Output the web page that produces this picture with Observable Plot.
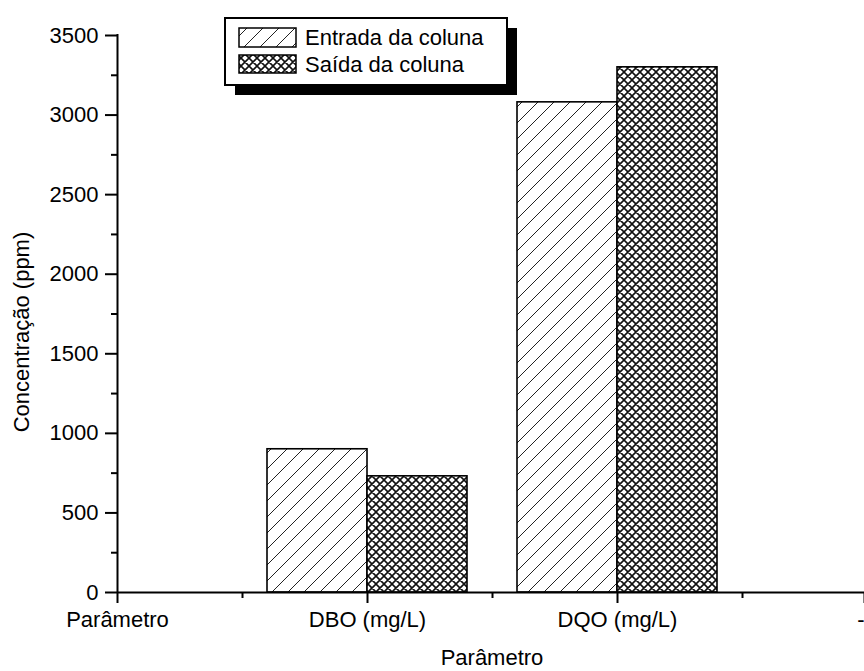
<!DOCTYPE html>
<html><head><meta charset="utf-8">
<script src="https://cdn.jsdelivr.net/npm/d3@7"></script>
<script src="https://cdn.jsdelivr.net/npm/@observablehq/plot@0.6"></script>
<style>
body{margin:0;background:#fff}
#chart{position:relative;width:864px;height:671px;overflow:hidden}
</style>
</head><body><div id="chart"></div>
<script>
// ---- data ----
const categories = ["DBO (mg/L)", "DQO (mg/L)"];
const categoryPositions = [1, 2];
const seriesNames = ["Entrada da coluna", "Saída da coluna"];
const entrada = [900, 3080];
const saida = [730, 3300];
const xMajorTicks = [0, 1, 2];
const xTickLabels = ["Parâmetro", "DBO (mg/L)", "DQO (mg/L)"];
const xEdgeTick = [3];
const xEdgeLabel = "-";
const xMinorTicks = [0.5, 1.5, 2.5];
const yMajorTicks = [0, 500, 1000, 1500, 2000, 2500, 3000, 3500];
const yMinorTicks = [250, 750, 1250, 1750, 2250, 2750, 3250];
const xTitle = "Parâmetro";
const yTitle = "Concentração (ppm)";

const rowsEntrada = categories.map((c, i) => ({cat: c, pos: categoryPositions[i], value: entrada[i]}));
const rowsSaida = categories.map((c, i) => ({cat: c, pos: categoryPositions[i], value: saida[i]}));

const BAR = 0.4;
const FONT = "'Liberation Sans', Arial, Helvetica, sans-serif";
const FS = 22;

const plot = Plot.plot({
  width: 864,
  height: 671,
  marginLeft: 117,
  marginRight: 0,
  marginTop: 35,
  marginBottom: 79,
  style: {fontFamily: FONT, fontSize: FS + "px", color: "black", background: "white", overflow: "visible"},
  x: {domain: [0, 3], range: [117, 867]},
  y: {domain: [0, 3500], range: [592, 35]},
  marks: [
    Plot.rectY(rowsEntrada, {x1: d => d.pos - BAR, x2: d => d.pos, y1: 0, y2: "value",
      fill: "url(#hatchE)", stroke: "black", strokeWidth: 1.6}),
    Plot.rectY(rowsSaida, {x1: d => d.pos, x2: d => d.pos + BAR, y1: 0, y2: "value",
      fill: "url(#hatchS)", stroke: "black", strokeWidth: 1.6}),
    Plot.axisY(yMajorTicks, {tickSize: 12, tickPadding: 7, strokeWidth: 2, label: null, fontSize: FS, tickFormat: d => String(d)}),
    Plot.axisY(yMinorTicks, {tickSize: 6, strokeWidth: 2, text: null, label: null}),
    Plot.axisX(xMajorTicks, {tickSize: 11, tickPadding: 8, strokeWidth: 2, label: null, fontSize: FS,
      tickFormat: d => xTickLabels[xMajorTicks.indexOf(d)]}),
    Plot.axisX(xEdgeTick, {tickSize: 11, tickPadding: 8, strokeWidth: 2, label: null, fontSize: FS,
      textAnchor: "end", dx: -3, tickFormat: () => xEdgeLabel}),
    Plot.axisX(xMinorTicks, {tickSize: 6, strokeWidth: 2, text: null, label: null}),
    Plot.ruleY([0], {strokeWidth: 2}),
    Plot.ruleX([0], {y1: 0, y2: 3500, strokeWidth: 2, strokeLinecap: "square"})
  ]
});

document.getElementById("chart").appendChild(plot);
const svg = d3.select(plot);

// patterns
const defs = svg.insert("defs", ":first-child");
const pE = defs.append("pattern").attr("id", "hatchE").attr("patternUnits", "userSpaceOnUse")
  .attr("width", 16).attr("height", 16);
pE.append("rect").attr("width", 16).attr("height", 16).attr("fill", "white");
pE.append("path").attr("d", "M-4,4 L4,-4 M0,16 L16,0 M12,20 L20,12")
  .attr("stroke", "#222").attr("stroke-width", 1).attr("fill", "none");
const pS = defs.append("pattern").attr("id", "hatchS").attr("patternUnits", "userSpaceOnUse")
  .attr("width", 8).attr("height", 8);
pS.append("rect").attr("width", 8).attr("height", 8).attr("fill", "white");
pS.append("path").attr("d", "M-2,2 L2,-2 M0,8 L8,0 M6,10 L10,6 M-2,6 L2,10 M0,0 L8,8 M6,-2 L10,2")
  .attr("stroke", "#111").attr("stroke-width", 1.6).attr("fill", "none");

// axis titles
svg.append("text").attr("x", 492).attr("y", 665).attr("text-anchor", "middle")
  .attr("font-family", FONT).attr("font-size", FS).attr("fill", "black").text(xTitle);
svg.append("text").attr("transform", "translate(29,332) rotate(-90)").attr("text-anchor", "middle")
  .attr("font-family", FONT).attr("font-size", FS).attr("fill", "black").text(yTitle);

// legend
const lg = svg.append("g").attr("transform", "translate(225,18)");
lg.append("rect").attr("x", 10).attr("y", 10).attr("width", 282).attr("height", 67).attr("fill", "black");
lg.append("rect").attr("x", 0).attr("y", 0).attr("width", 282).attr("height", 67)
  .attr("fill", "white").attr("stroke", "black").attr("stroke-width", 2);
const sw = [{y: 10, h: 19, f: "url(#hatchE)"}, {y: 37, h: 18, f: "url(#hatchS)"}];
seriesNames.forEach((name, i) => {
  lg.append("rect").attr("x", 14).attr("y", sw[i].y).attr("width", 57).attr("height", sw[i].h)
    .attr("fill", sw[i].f).attr("stroke", "black").attr("stroke-width", 1.5);
  lg.append("text").attr("x", 80).attr("y", 27 + i * 27).attr("text-anchor", "start")
    .attr("font-family", FONT).attr("font-size", FS).attr("fill", "black").text(name);
});
</script>
</body></html>
